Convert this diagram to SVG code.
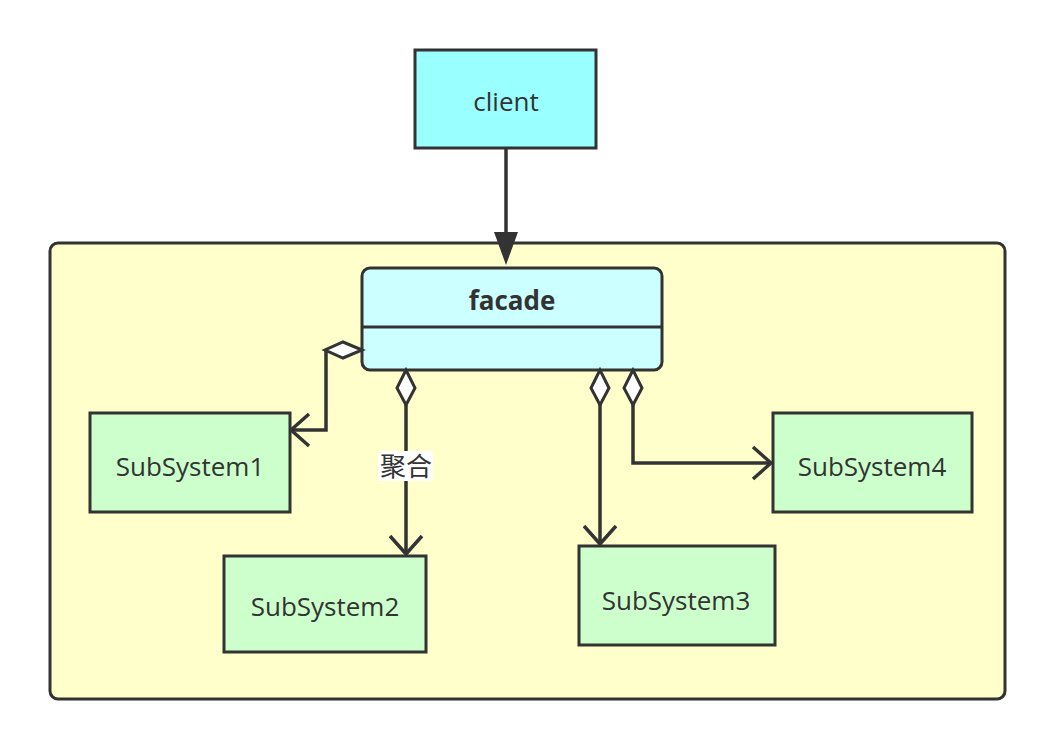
<svg xmlns="http://www.w3.org/2000/svg" width="1056" height="750" viewBox="0 0 1056 750">
<defs>
<style>
.box{stroke:#333;stroke-width:3}
.sub{fill:#ccffcc}
.lbl{font-family:"Open Sans","Noto Sans","Noto Sans CJK SC",sans-serif;font-size:26px;fill:#333;text-anchor:middle;dominant-baseline:central}
.ln{fill:none;stroke:#333;stroke-width:3.5}
.dia{fill:#fff;stroke:#333;stroke-width:3}
</style>
<marker id="open" viewBox="0 0 22 36" refX="20" refY="18" markerWidth="22" markerHeight="36" markerUnits="userSpaceOnUse" orient="auto">
<path d="M2,2 L20,18 L2,34" fill="none" stroke="#333" stroke-width="3.5"/>
</marker>
</defs>
<rect width="1056" height="750" fill="#fff"/>
<g id="container">
<rect x="50" y="243" width="955" height="456" rx="8" fill="#ffffcc" class="box"/>
</g>
<g id="client">
<rect x="415" y="50" width="181" height="98" fill="#99ffff" class="box"/>
<text x="506" y="101" class="lbl">client</text>
</g>
<g id="facade">
<rect x="362" y="268" width="300" height="102" rx="8" fill="#ccffff" class="box"/>
<line x1="362" y1="327" x2="662" y2="327" class="box"/>
<text x="512" y="300" class="lbl" font-weight="bold">facade</text>
</g>
<g id="subsystem1">
<rect x="90" y="413" width="200" height="99" class="box sub"/>
<text x="190" y="466" class="lbl">SubSystem1</text>
</g>
<g id="subsystem2">
<rect x="224" y="556" width="202" height="96" class="box sub"/>
<text x="325" y="606" class="lbl">SubSystem2</text>
</g>
<g id="subsystem3">
<rect x="579" y="546" width="196" height="99" class="box sub"/>
<text x="676" y="600" class="lbl">SubSystem3</text>
</g>
<g id="subsystem4">
<rect x="773" y="413" width="199" height="99" class="box sub"/>
<text x="872" y="466" class="lbl">SubSystem4</text>
</g>
<g id="connectors">
<path d="M506,148 L506,232" class="ln"/>
<path d="M494,232 L518,232 L506,265 Z" fill="#333"/>
<path d="M326,350 L326,430 L291,430" class="ln" marker-end="url(#open)"/>
<path d="M362,350 L343,342 L325,350 L343,358 Z" class="dia"/>
<path d="M406,405 L406,554" class="ln" marker-end="url(#open)"/>
<path d="M406,370 L397,388 L406,405 L415,388 Z" class="dia"/>
<rect x="378" y="451" width="55" height="30" fill="#fff"/>
<text x="406" y="466" class="lbl" font-size="25">聚合</text>
<path d="M600,405 L600,544" class="ln" marker-end="url(#open)"/>
<path d="M600,370 L591,388 L600,405 L609,388 Z" class="dia"/>
<path d="M633,405 L633,463 L771,463" class="ln" marker-end="url(#open)"/>
<path d="M633,370 L624,388 L633,405 L642,388 Z" class="dia"/>
</g>
</svg>
